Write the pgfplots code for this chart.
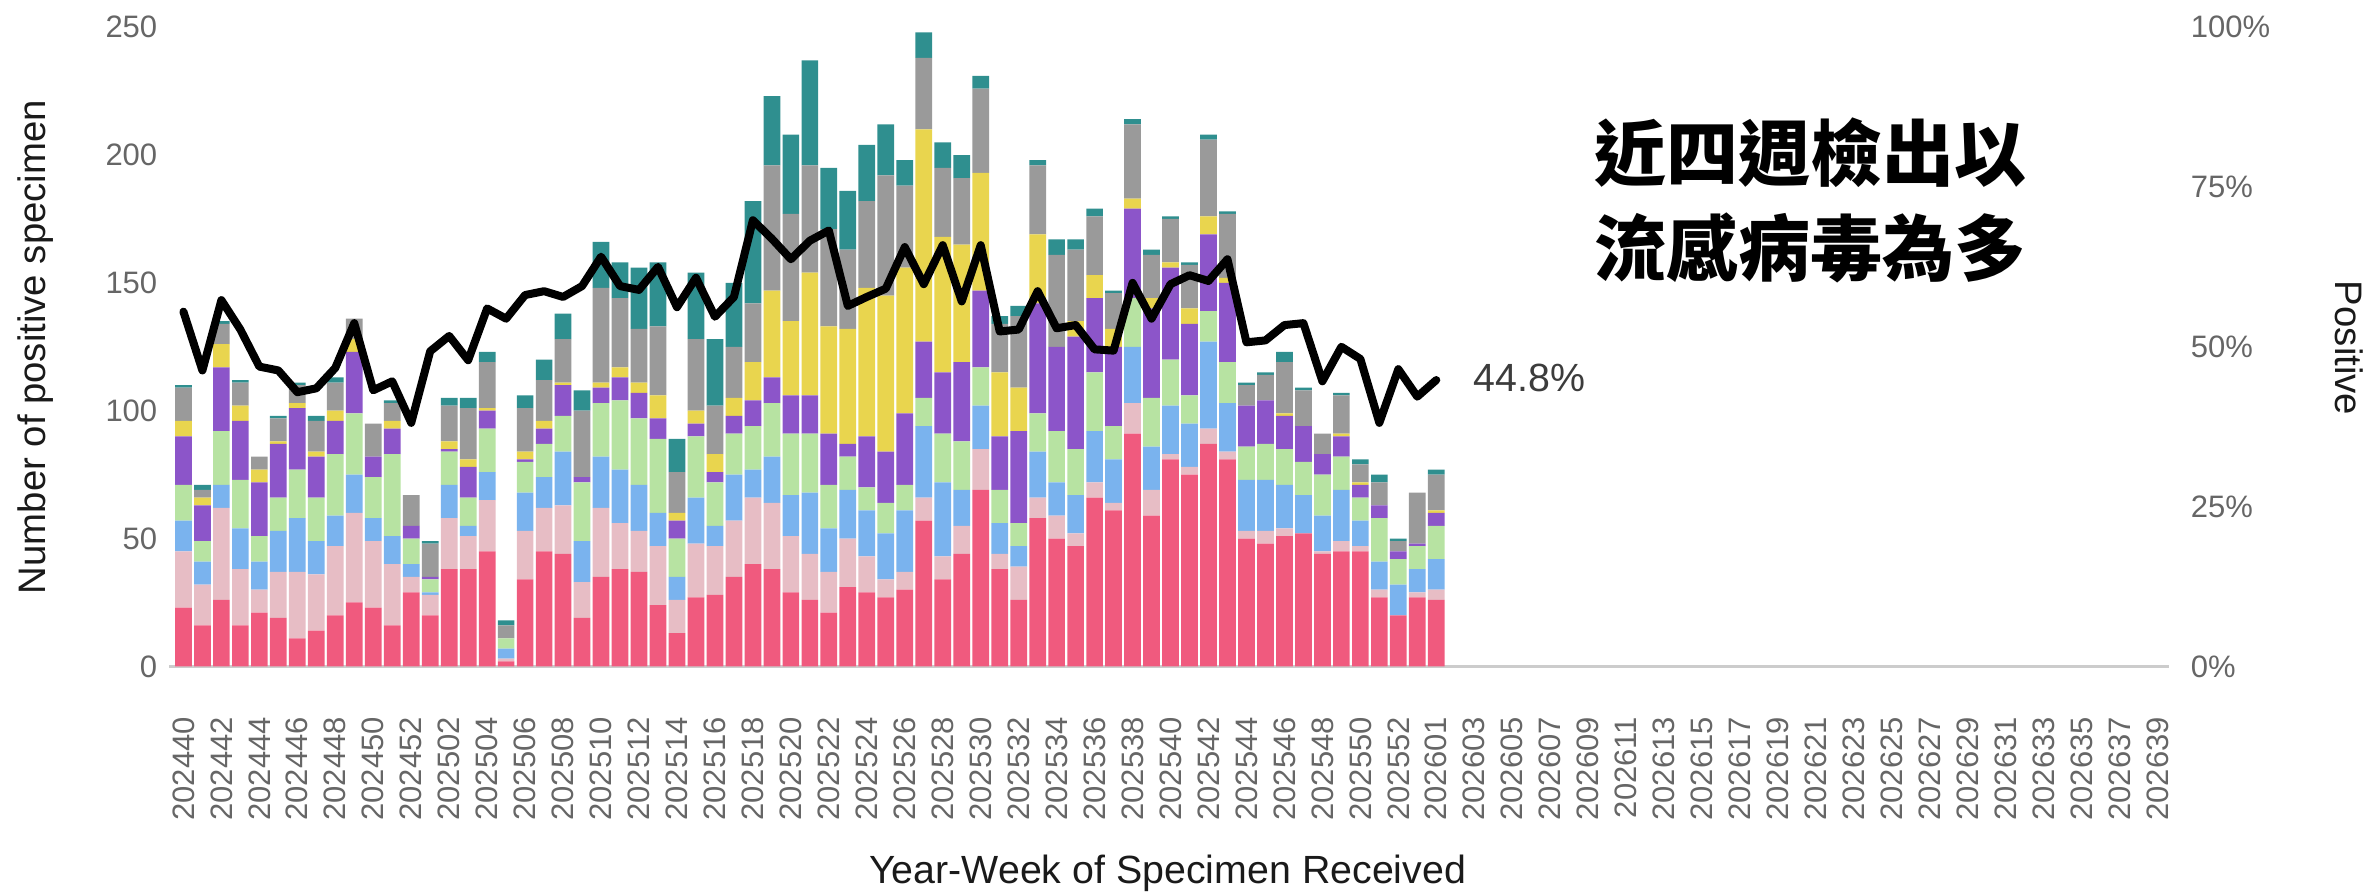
\documentclass[border=0pt]{standalone}
\usepackage{pgfplots}
\pgfplotsset{compat=1.18}
\usepackage{pgfplotstable}
\usepackage{fontspec}
\setmainfont{Liberation Sans}
\newfontfamily\cjk{Noto Sans CJK TC}
\definecolor{cA}{HTML}{F05A7E}
\definecolor{cB}{HTML}{E7BDC5}
\definecolor{cC}{HTML}{7AB3EE}
\definecolor{cD}{HTML}{B7E3A2}
\definecolor{cE}{HTML}{8C55C9}
\definecolor{cF}{HTML}{E9D54E}
\definecolor{cG}{HTML}{9A9A9A}
\definecolor{cH}{HTML}{2F8F8F}
\definecolor{tickgray}{HTML}{666666}
\definecolor{labelc}{HTML}{1A1A1A}

\pgfplotstableread{
x a b c d e f g h pos
0 23 22 12 14 19 6 13 1 55.5
1 16 16 9 8 14 3 3 2 46.3
2 26 36 9 21 25 9 8 1 57.3
3 16 22 16 19 23 6 9 1 52.7
4 21 9 11 10 21 5 5 0 46.9
5 19 18 16 13 21 1 9 1 46.3
6 11 26 21 19 24 2 7 1 42.9
7 14 22 13 17 16 2 12 2 43.5
8 20 27 12 24 13 4 11 2 46.7
9 25 35 15 24 24 5 8 0 53.7
10 23 26 9 16 8 0 13 0 43.2
11 16 24 11 32 10 3 7 1 44.6
12 29 6 5 10 5 0 12 0 38.1
13 20 8 1 5 1 0 13 1 49.3
14 38 20 13 13 1 3 14 3 51.7
15 38 13 4 11 12 3 20 4 47.9
16 45 20 11 17 7 1 18 4 56.0
17 2 1 4 4 0 0 5 2 54.4
18 34 19 15 12 1 3 17 5 58.1
19 45 17 12 13 6 3 16 8 58.7
20 44 19 21 14 12 1 17 10 57.8
21 19 14 16 23 2 0 26 8 59.5
22 35 27 20 21 6 2 37 18 64.1
23 38 18 21 27 9 4 27 14 59.5
24 37 16 18 26 10 4 21 24 58.9
25 24 23 13 29 8 9 27 25 62.5
26 13 13 9 15 7 3 16 13 56.2
27 27 21 18 24 5 5 28 26 60.8
28 28 19 8 17 4 7 19 26 54.7
29 35 22 18 16 7 7 20 25 57.8
30 40 26 11 17 10 15 23 40 69.8
31 38 26 18 21 10 34 49 27 66.9
32 29 22 16 24 15 29 42 31 63.7
33 26 18 24 23 15 48 42 41 66.6
34 21 16 17 17 20 42 38 24 68.2
35 31 19 19 13 5 45 31 23 56.4
36 29 14 18 9 20 58 34 22 57.8
37 27 7 18 12 20 61 47 20 59.1
38 30 7 24 10 28 57 32 10 65.6
39 57 9 28 11 22 83 28 10 59.8
40 34 9 29 19 24 53 27 10 65.9
41 44 11 14 19 31 46 26 9 57.1
42 69 16 17 15 30 46 33 5 65.9
43 38 6 12 13 21 25 19 3 52.4
44 26 13 8 9 36 17 28 4 52.7
45 58 8 18 15 43 27 27 2 58.7
46 50 9 13 20 33 0 36 6 52.9
47 47 5 15 18 44 6 28 4 53.4
48 66 6 20 23 29 9 23 3 49.6
49 61 3 17 13 31 7 14 1 49.4
50 91 12 22 19 35 4 29 2 60.0
51 59 10 17 19 35 4 17 2 54.4
52 81 2 19 18 36 2 17 1 59.8
53 75 3 17 11 28 6 17 1 61.2
54 87 6 34 12 30 7 30 2 60.3
55 81 3 19 16 31 2 25 1 63.7
56 50 3 20 13 16 0 8 1 50.7
57 48 5 20 14 17 0 10 1 51.0
58 51 3 17 14 13 1 20 4 53.4
59 52 0 15 13 14 0 14 1 53.7
60 44 1 14 16 8 0 8 0 44.6
61 45 4 20 13 8 1 15 1 50.0
62 45 2 10 9 5 1 7 2 48.1
63 27 3 11 17 5 0 9 3 38.1
64 20 0 12 10 3 0 4 1 46.5
65 27 2 9 9 1 0 20 0 42.2
66 26 4 12 13 5 1 14 2 44.8
}\data

\begin{document}
\begin{tikzpicture}
\begin{axis}[
  at={(0,0)}, anchor=south west,
  width=600pt, height=191.76pt, scale only axis,
  xmin=-0.76, xmax=104.6, ymin=0, ymax=250,
  ybar stacked, bar width=0.88,
  separate axis lines,
  axis x line*=bottom, axis y line*=left,
  x axis line style={-, draw=black!20, line width=0.9pt},
  y axis line style={draw=none},
  major tick length=0pt, tick style={draw=none},
  xtick={0,2,...,104},
  xticklabels={202440,202442,202444,202446,202448,202450,202452,
    202502,202504,202506,202508,202510,202512,202514,202516,202518,202520,202522,202524,202526,202528,202530,202532,202534,202536,202538,202540,202542,202544,202546,202548,202550,202552,
    202601,202603,202605,202607,202609,202611,202613,202615,202617,202619,202621,202623,202625,202627,202629,202631,202633,202635,202637,202639},
  x tick label style={rotate=90, anchor=east, inner xsep=15pt, font=\fontsize{9.3}{10}\selectfont, text=tickgray},
  ytick={0,50,...,250},
  y tick label style={font=\fontsize{9.3}{10}\selectfont, text=tickgray},
  /pgf/number format/assume math mode=true,
  clip=false,
]
\addplot[fill=cA, draw=none] table[x=x,y=a]{\data};
\addplot[fill=cB, draw=none] table[x=x,y=b]{\data};
\addplot[fill=cC, draw=none] table[x=x,y=c]{\data};
\addplot[fill=cD, draw=none] table[x=x,y=d]{\data};
\addplot[fill=cE, draw=none] table[x=x,y=e]{\data};
\addplot[fill=cF, draw=none] table[x=x,y=f]{\data};
\addplot[fill=cG, draw=none] table[x=x,y=g]{\data};
\addplot[fill=cH, draw=none] table[x=x,y=h]{\data};
\end{axis}
\begin{axis}[
  at={(0,0)}, anchor=south west,
  width=600pt, height=191.76pt, scale only axis,
  xmin=-0.76, xmax=104.6, ymin=0, ymax=100,
  axis x line=none, axis y line*=right,
  y axis line style={draw=none},
  major tick length=0pt, tick style={draw=none},
  ytick={0,25,50,75,100},
  yticklabel={\pgfmathprintnumber{\tick}\%},
  y tick label style={font=\fontsize{9.3}{10}\selectfont, text=tickgray, xshift=3pt},
  /pgf/number format/assume math mode=true,
  clip=false,
]
\addplot[black, line width=2.4pt, line join=round, line cap=round] table[x=x,y=pos]{\data};
\end{axis}
\node[rotate=90, font=\fontsize{11.5}{13}\selectfont, text=labelc] at (-39.9pt,95.8pt) {Number of positive specimen};
\node[font=\fontsize{11.8}{13}\selectfont, text=labelc] at (299.6pt,-62pt) {Year-Week of Specimen Received};
\node[rotate=-90, font=\fontsize{11.5}{13}\selectfont, text=labelc] at (654pt,95.5pt) {Positive};
\node[font=\cjk\bfseries\fontsize{21.6}{28.5}\selectfont, align=center] at (492.3pt,139.8pt) {近四週檢出以\\流感病毒為多};
\node[anchor=west, font=\fontsize{11.8}{13}\selectfont, text=labelc!85] at (387.8pt,86.5pt) {44.8\%};
\pgfresetboundingbox
\path (-50.7pt,-67.38pt) rectangle (660pt,199.92pt);
\end{tikzpicture}
\end{document}
